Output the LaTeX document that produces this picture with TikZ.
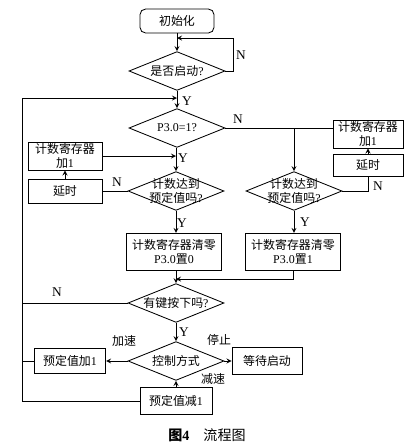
\documentclass[tikz,border=0pt]{standalone}
\usepackage{fontspec}
\setmainfont{Noto Sans CJK SC}
\newfontfamily\lat{Liberation Serif}
\usepackage{tikz}
\usetikzlibrary{shapes.geometric}
\tikzset{proc/.style={rectangle,draw,align=center,inner sep=1pt},
         begin/.style={rectangle,draw,rounded corners=4pt,minimum width=1.85cm,minimum height=0.6cm},
         decision/.style={diamond,draw,inner sep=0pt,minimum width=2.4cm,minimum height=0.97cm},
         yn/.style={font=\fontsize{9.5}{10}\selectfont\lat}}

\begin{document}
\begin{tikzpicture}[x=0.025cm,y=-0.025cm,line width=0.6pt,>=stealth,font=\fontsize{8.5}{10}\selectfont]
            \useasboundingbox (0,0) rectangle (409,448);
            \node[begin] (init) at (177,21) {初始化};
            \node[decision,label={center:是否启动{\lat ?}}] (run) at (177,71) {};
            \node[decision,label={center:{\lat P3.0=1?}}] (p30) at (177,128) {};
            \node[decision,label={[align=center]center:计数达到\\预定值吗{\lat ?}}] (cntL) at (176,191) {};
            \node[decision,label={[align=center]center:计数达到\\预定值吗{\lat ?}}] (cntR) at (294,191) {};
            \node[proc,minimum width=1.85cm,minimum height=0.65cm] (incL) at (65,156) {计数寄存器\\加{\lat 1}};
            \node[proc,minimum width=1.85cm,minimum height=0.6cm] (delL) at (65,191) {延时};
            \node[proc,minimum width=1.75cm,minimum height=0.55cm] (incR) at (368,134) {计数寄存器\\加{\lat 1}};
            \node[proc,minimum width=1.75cm,minimum height=0.55cm] (delR) at (368,165) {延时};
            \node[proc,minimum width=2.37cm,minimum height=0.93cm] (clr0) at (174,252) {计数寄存器清零\\{\lat P3.0}置{\lat 0}};
            \node[proc,minimum width=2.37cm,minimum height=0.93cm] (clr1) at (293,252) {计数寄存器清零\\{\lat P3.0}置{\lat 1}};
            \node[decision,label={center:有键按下吗{\lat ?}}] (key) at (176,303) {};
            \node[decision,label={center:控制方式}] (mode) at (176,361) {};
            \node[proc,minimum width=1.78cm,minimum height=0.63cm] (plus) at (70,361) {预定值加{\lat 1}};
            \node[proc,minimum width=1.75cm,minimum height=0.68cm] (wait) at (267,361) {等待启动};
            \node[proc,minimum width=1.8cm,minimum height=0.68cm] (minus) at (176,401) {预定值减{\lat 1}};

            \coordinate (back) at (177,38);
            \coordinate (ret) at (177,98);
            \coordinate (left) at (22,98);
            \coordinate (join) at (176,279);

            \draw[->] (init) -- (run);
            \draw[->] (run.east) -- ++(8,0) |- (back);
            \draw[->] (run) -- (p30);
            \draw[->] (minus.west) -| (left) -- (ret);
            \draw (key.west) -- (key.west -| left);
            \draw (plus.west) -- (plus.west -| left);
            \draw (p30.east) -- (p30.east -| incR.west);
            \draw[->] (p30.east -| cntR.north) -- (cntR.north);
            \draw[->] (delR) -- (incR);
            \draw (cntR.east) -| (delR.south);
            \draw[->] (p30.south -| cntL.north) -- (cntL.north);
            \draw[->] (incL.east) -- (incL.east -| cntL.north);
            \draw[->] (delL) -- (incL);
            \draw (cntL.west) -- (delL.east);
            \draw[->] (cntL.south) -- (cntL.south |- clr0.north);
            \draw[->] (cntR.south) -- (cntR.south |- clr1.north);
            \draw[->] (clr0.south -| key.north) -- (key.north);
            \draw[->] (clr1.south) |- (join);
            \draw[->] (key) -- (mode);
            \draw[->] (mode.west) -- (plus.east);
            \draw[->] (mode.east) -- (wait.west);
            \draw[->] (minus) -- (mode);

            \node[yn] (n1) at (241,55) {N};
            \node[yn] (y1) at (187,101) {Y};
            \node[yn] (n2) at (238,119) {N};
            \node[yn] (y2) at (183,158) {Y};
            \node[yn] (n3) at (117,182) {N};
            \node[yn] (n4) at (378,186) {N};
            \node[yn] (y3) at (182,223) {Y};
            \node[yn] (y4) at (305,222) {Y};
            \node[yn] (n5) at (57,292) {N};
            \node[yn] (y5) at (184,332) {Y};
            \node (acc) at (124,341) {加速};
            \node (stop) at (219,340) {停止};
            \node (dec) at (213,379) {减速};
            \node[font=\fontsize{10}{12}\selectfont] (cap) at (207,435) {\textbf{图{\lat 4}}\quad 流程图};
        \end{tikzpicture}
\end{document}
